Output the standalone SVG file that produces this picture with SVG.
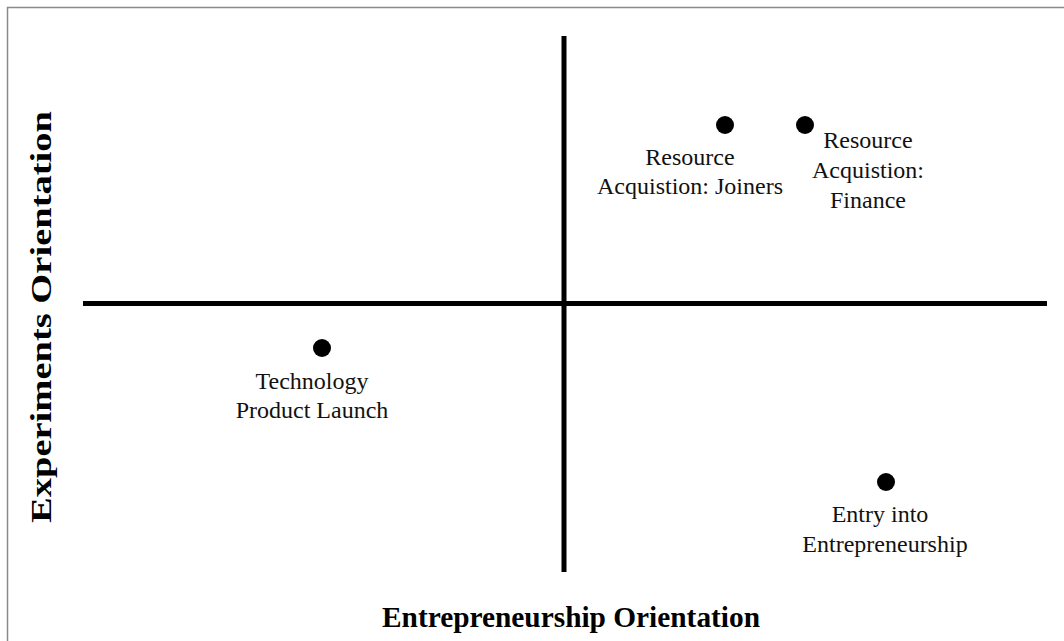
<svg xmlns="http://www.w3.org/2000/svg" width="1064" height="641" viewBox="0 0 1064 641">
<style>
.lbl{font-family:"Liberation Serif","Times New Roman",serif;font-size:24px;fill:#111;text-anchor:middle}
.ttl{font-family:"Liberation Serif","Times New Roman",serif;font-size:30px;font-weight:bold;fill:#000;text-anchor:middle}
.axis{stroke:#000;stroke-width:5;fill:none}
.dot{fill:#000}
</style>
<rect x="0" y="0" width="1064" height="641" fill="#fff"/>
<rect x="7.5" y="7.5" width="1080" height="660" fill="none" stroke="#8a8a8a" stroke-width="1.5"/>
<g id="connectors">
<line class="axis" x1="564" y1="36" x2="564" y2="572"/>
<line class="axis" x1="83" y1="303.5" x2="1047" y2="303.5"/>
</g>
<g id="joiners">
<circle class="dot" cx="725" cy="125" r="9"/>
<text class="lbl" x="690" y="165">Resource</text>
<text class="lbl" x="690" y="194">Acquistion: Joiners</text>
</g>
<g id="finance">
<circle class="dot" cx="805" cy="125" r="9"/>
<text class="lbl" x="868" y="148">Resource</text>
<text class="lbl" x="868" y="178">Acquistion:</text>
<text class="lbl" x="868" y="208">Finance</text>
</g>
<g id="technology">
<circle class="dot" cx="322" cy="348" r="9"/>
<text class="lbl" x="312" y="389">Technology</text>
<text class="lbl" x="312" y="418">Product Launch</text>
</g>
<g id="entry">
<circle class="dot" cx="886" cy="482" r="9"/>
<text class="lbl" x="880" y="522">Entry into</text>
<text class="lbl" x="885" y="552">Entrepreneurship</text>
</g>
<g id="x-title">
<text class="ttl" x="571" y="627" textLength="378" lengthAdjust="spacingAndGlyphs">Entrepreneurship Orientation</text>
</g>
<g id="y-title">
<text class="ttl" transform="translate(51,317) rotate(-90)" textLength="412" lengthAdjust="spacingAndGlyphs">Experiments Orientation</text>
</g>
</svg>
